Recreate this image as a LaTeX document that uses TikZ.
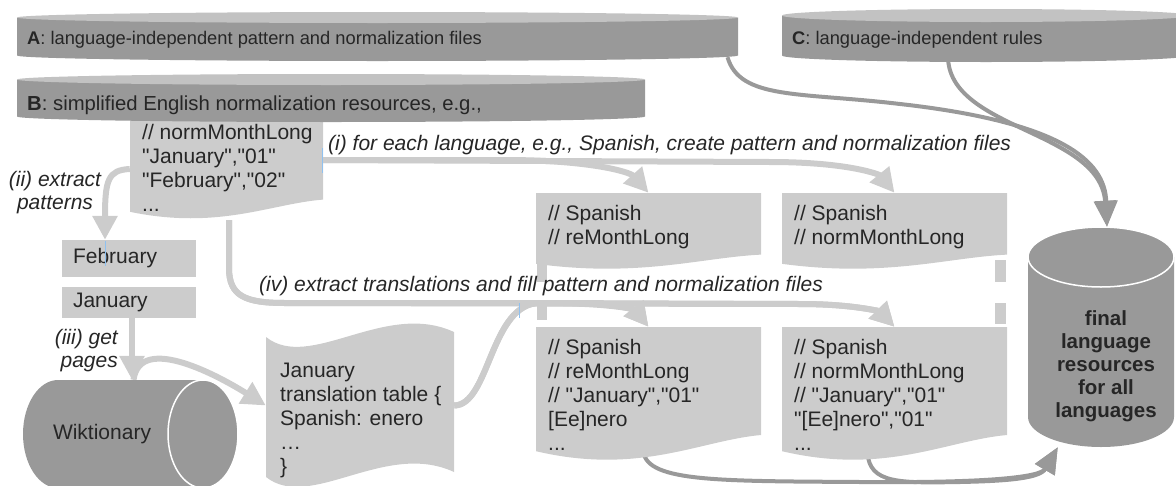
\documentclass[tikz,border=0pt]{standalone}
\usepackage{fontspec}
\setmainfont{Liberation Sans}[Ligatures=TeXOff]
\usetikzlibrary{arrows.meta,calc,backgrounds}
\definecolor{ink}{HTML}{262626}
\definecolor{diskgray}{HTML}{999999}
\definecolor{disktop}{HTML}{C2C2C2}
\definecolor{docgray}{HTML}{CCCCCC}
\definecolor{flowgray}{HTML}{CCCCCC}
\definecolor{cursorblue}{HTML}{8FC1F0}
\newcommand{\docfont}{\fontsize{21}{24}\selectfont}
\tikzset{
  flatdisk/.style={inner sep=0pt, path picture={
      \fill[diskgray] let \p1=(path picture bounding box.south west), \p2=(path picture bounding box.north east) in
        (\x1,\y2-#1) -- (\x1,\y1+#1) arc[start angle=180,end angle=360,x radius={(\x2-\x1)/2},y radius=#1] -- (\x2,\y2-#1) -- cycle;
      \fill[disktop] let \p1=(path picture bounding box.south west), \p2=(path picture bounding box.north east) in
        ({(\x1+\x2)/2},\y2-#1) ellipse[x radius={(\x2-\x1)/2},y radius=#1];
  }},
  flatdisk/.default=5.5pt,
  docshape/.style={inner sep=0pt, path picture={
      \fill[docgray] let \p1=(path picture bounding box.south west), \p2=(path picture bounding box.north east) in
        (\x1,\y2) -- (\x2,\y2) -- (\x2,{\y1+0.2*(\y2-\y1)})
        .. controls ({\x2-0.27*(\x2-\x1)},{\y1+0.16*(\y2-\y1)}) and ({\x1+0.46*(\x2-\x1)},{\y1-0.1*(\y2-\y1)}) .. (\x1,{\y1+0.08*(\y2-\y1)}) -- cycle;
  }},
  tapeshape/.style={inner sep=0pt, path picture={
      \fill[docgray] let \p1=(path picture bounding box.south west), \p2=(path picture bounding box.north east) in
        (\x1,\y2-14pt) .. controls (\x1+44pt,\y2-49pt) and (\x1+119pt,\y2+23pt) .. (\x2,\y2-9pt)
        -- (\x2,\y2-149pt) .. controls (\x1+119pt,\y2-117pt) and (\x1+44pt,\y2-189pt) .. (\x1,\y2-154pt) -- cycle;
  }},
  tank/.style={inner sep=0pt, path picture={
      \fill[diskgray] let \p1=(path picture bounding box.south west), \p2=(path picture bounding box.north east) in
        (\x1,\y2-30pt) -- (\x1,\y1+30pt) arc[start angle=180,end angle=360,x radius={(\x2-\x1)/2},y radius=30pt]
        -- (\x2,\y2-30pt) arc[start angle=0,end angle=180,x radius={(\x2-\x1)/2},y radius=30pt] -- cycle;
      \draw[white, line width=1.5pt] let \p1=(path picture bounding box.south west), \p2=(path picture bounding box.north east) in
        ({(\x1+\x2)/2},\y2-30pt) ellipse[x radius={(\x2-\x1)/2},y radius=30pt];
  }},
  drum/.style={inner sep=0pt, path picture={
      \fill[diskgray] let \p1=(path picture bounding box.south west), \p2=(path picture bounding box.north east) in
        (\x2-35pt,\y2) -- (\x1+35pt,\y2) arc[start angle=90,end angle=270,x radius=35pt,y radius={(\y2-\y1)/2}]
        -- (\x2-35pt,\y1) arc[start angle=-90,end angle=90,x radius=35pt,y radius={(\y2-\y1)/2}] -- cycle;
      \draw[white, line width=1.5pt] let \p1=(path picture bounding box.south west), \p2=(path picture bounding box.north east) in
        (\x2-35pt,{(\y1+\y2)/2}) ellipse[x radius=35pt,y radius={(\y2-\y1)/2}];
  }},
  featbox/.style={fill=docgray, font=\docfont, text=ink, text width=112pt, align=left, inner xsep=11pt, inner ysep=0pt},
  doctext/.style={font=\docfont, text=ink, align=left, anchor=north west, inner sep=0pt},
  disktext/.style={font=\fontsize{18.3}{22}\selectfont, text=ink, anchor=west, inner sep=0pt},
  flowlabel/.style={font=\fontsize{21}{23}\selectfont\itshape, text=ink, inner sep=0pt},
  flow/.style={draw=flowgray, line width=6pt, -{Triangle[width=24pt,length=24pt]}},
  feed/.style={draw=diskgray, line width=4pt, -{Triangle[width=22pt,length=26pt]}}
}
\begin{document}
\begin{tikzpicture}[x=1pt, y=-1pt]
  \useasboundingbox (0,0) rectangle (1176,485);

  % stores
  \node[flatdisk, minimum width=721pt, minimum height=49pt] (diskA) at (377.5,36.5) {};
  \node[docshape, minimum width=193pt, minimum height=102pt] (docEn) at (226.5,169) {};
  \node[flatdisk, minimum width=628pt, minimum height=48pt] (diskB) at (331,98) {};
  \node[flatdisk=6.5pt, minimum width=408pt, minimum height=53pt] (diskC) at (986,35.5) {};
  \node[disktext] (diskAtext) at (27,40) {\textbf{A}: language-independent pattern and normalization files};
  \node[disktext, font=\fontsize{20.3}{22}\selectfont] (diskBtext) at (27,105) {\textbf{B}: simplified English normalization resources, e.g.,};
  \node[disktext] (diskCtext) at (792,40) {\textbf{C}: language-independent rules};

  % extracted patterns and wiktionary
  \node[featbox, minimum height=37pt] (featFeb) at (129,258.5) {February};
  \node[featbox, minimum height=31pt] (featJan) at (129,302.5) {January};
  \node[drum, minimum width=215pt, minimum height=108pt, text width=155pt, align=left, inner xsep=30pt,
        font=\docfont, text=ink] (wiki) at (130.5,434) {Wiktionary};
  \node[tapeshape, minimum width=188pt, minimum height=175pt] (docTrans) at (360,410.5) {};

  % spanish files
  \node[docshape, minimum width=225pt, minimum height=77pt] (specRe) at (648.5,231.5) {};
  \node[docshape, minimum width=225pt, minimum height=77pt] (specNorm) at (894.5,231.5) {};
  \node[docshape, minimum width=225pt, minimum height=135pt] (fillRe) at (648.5,394.5) {};
  \node[docshape, minimum width=225pt, minimum height=135pt] (fillNorm) at (894.5,394.5) {};
  \fill[docgray] (537,264) rectangle (547,282);
  \fill[docgray] (537,300) rectangle (547,320);
  \fill[docgray] (995,260) rectangle (1006,282);
  \fill[docgray] (995,303) rectangle (1006,324);
  \node[tank, minimum width=146pt, minimum height=220pt] (final) at (1101,337) {};

  % file contents
  \node[doctext] (docEnText) at (142,124.5) {// normMonthLong\\"January","01"\\"February","02"\\...};
  \node[doctext] (docTransText) at (280,362.5) {January\\translation table \{\\Spanish: enero\\…\\\}};
  \node[doctext] (specReText) at (548,205.5) {// Spanish\\// reMonthLong};
  \node[doctext] (specNormText) at (794,205.5) {// Spanish\\// normMonthLong};
  \node[doctext] (fillReText) at (548,339.5) {// Spanish\\// reMonthLong\\// "January","01"\\{}[Ee]nero\\...};
  \node[doctext] (fillNormText) at (794,339.5) {// Spanish\\// normMonthLong\\// "January","01"\\"[Ee]nero","01"\\...};
  \node[font=\fontsize{20.5}{23}\selectfont\bfseries, text=ink, align=center, inner sep=0pt] (finalText) at (1106,366)
    {final\\language\\resources\\for all\\languages};

  % step labels
  \node[flowlabel, anchor=west] (labelI) at (328,145) {(i) for each language, e.g., Spanish, create pattern and normalization files};
  \node[flowlabel, align=center] (labelII) at (55,193) {(ii) extract\\patterns};
  \node[flowlabel, align=right, anchor=east] (labelIII) at (118,351) {(iii) get\\pages};
  \node[flowlabel, anchor=west] (labelIV) at (259,286) {(iv) extract translations and fill pattern and normalization files};

  \draw[cursorblue, line width=1pt] (322,148) -- (322,173);
  \draw[cursorblue, line width=1pt] (105,241) -- (105,266);
  \draw[cursorblue, line width=1pt] (519,303) -- (519,318);

  \begin{scope}[on background layer]
    % (i)
    \draw[flow] ([yshift=9pt]docEn.east) -- (505,160) .. controls (590,160) and (630,172) .. (specRe.north);
    \draw[flow] ([yshift=9pt]docEn.east) -- (770,162) .. controls (850,162) and (880,175) .. (specNorm.north);
    % (ii)
    \draw[flow] (docEn.west) .. controls (108,170) and (105,180) .. ([xshift=-24pt]featFeb.north);
    % (iii)
    \draw[flow] ([xshift=3pt]featJan.south) -- ([xshift=3pt]featJan.south |- wiki.north);
    \draw[flow] ([xshift=3pt]wiki.north) .. controls (140,332) and (222,378) .. ([yshift=5pt]docTrans.west);
    % (iv)
    \draw[flow] ([xshift=2.5pt]docEn.south) -- (229,268) .. controls (229,296) and (245,303) .. (285,303)
      -- (560,303) .. controls (615,303) and (635,310) .. (fillRe.north);
    \draw[flow] ([xshift=2.5pt]docEn.south) -- (229,268) .. controls (229,296) and (245,303) .. (285,303)
      -- (800,304) .. controls (855,304) and (880,312) .. (fillNorm.north);
    \draw[flow] ([yshift=5pt]docTrans.east) .. controls (490,405) and (490,303) .. (540,303)
      .. controls (615,303) and (635,310) .. (fillRe.north);
    \draw[flow] ([yshift=5pt]docTrans.east) .. controls (490,405) and (490,303) .. (540,303)
      -- (800,304) .. controls (855,304) and (880,312) .. (fillNorm.north);
    % into the final resources
    \draw[feed] ([xshift=350pt,yshift=4pt]diskA.south) .. controls (740,100) and (800,92) .. (900,104)
      .. controls (1060,122) and (1105,160) .. ([xshift=6pt]final.north);
    \draw[feed] ([xshift=-38pt,yshift=6pt]diskC.south) .. controls (948,130) and (1100,130) .. ([xshift=6pt]final.north);
    \draw[feed] ([xshift=-5pt,yshift=10pt]fillRe.south) .. controls (648,482) and (720,481) .. (860,482)
      .. controls (980,483) and (1040,478) .. ([xshift=30pt]final.south west);
    \draw[feed] ([xshift=-27pt,yshift=10pt]fillNorm.south) .. controls (869,484) and (900,483) .. (960,482)
      .. controls (1010,481) and (1040,478) .. ([xshift=30pt]final.south west);
  \end{scope}
\end{tikzpicture}
\end{document}
